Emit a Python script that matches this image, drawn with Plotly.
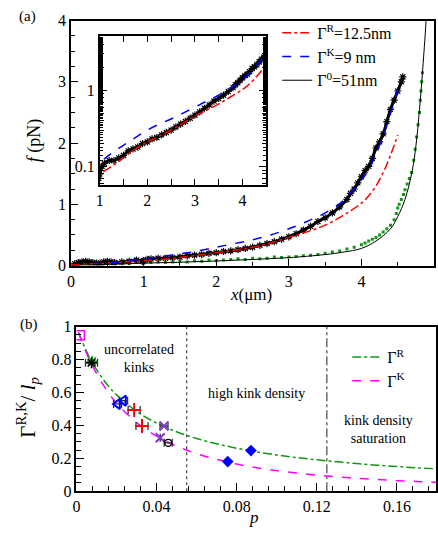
import plotly.graph_objects as go

# ---------------- panel (a) data ----------------
data_k_x = [0.05,0.1,0.15,0.2,0.25,0.3,0.35,0.4,0.45,0.5,0.55,0.6,0.7,0.8,0.9,0.98,1.0,1.05,1.1,1.2,1.3,1.4,1.5,1.6,1.7,1.8,1.9,2.0,
            2.1,2.2,2.3,2.4,2.5,2.6,2.7,2.8,2.9,3.0,3.1,3.2,3.3,3.4,3.5,3.6,3.7,3.8,3.85,3.9,3.95,4.0,4.05,4.1,4.15,
            4.2,4.25,4.3,4.35,4.4,4.45,4.5,4.55,4.57]
data_k_f = [0.03,0.05,0.06,0.07,0.06,0.05,0.04,0.04,0.06,0.07,0.06,0.05,0.06,0.07,0.09,0.07,0.08,0.1,0.11,0.12,0.12,0.13,0.14,0.16,0.17,0.18,0.2,0.21,
            0.23,0.24,0.26,0.28,0.3,0.33,0.36,0.39,0.43,0.47,0.52,0.58,0.64,0.72,0.78,0.86,0.96,1.08,1.18,1.25,1.35,1.45,1.55,1.62,1.75,
            1.92,2.02,2.15,2.35,2.55,2.7,2.85,3.0,3.08]

data_g_x = [0.02,0.05,0.1,0.15,0.2,0.25,0.3,0.35,0.4,0.45,0.5,0.6,0.7,0.8,0.9,1.0,1.1,1.2,1.3,1.4,1.5,1.6,1.7,1.8,1.9,2.0,
            2.1,2.2,2.3,2.4,2.5,2.6,2.7,2.8,2.9,3.0,3.1,3.2,3.3,3.4,3.5,3.6,3.7,3.8,3.9,4.0,4.05,4.1,4.15,4.2,4.25,4.3,4.35,
            4.4,4.45,4.48,4.5,4.52,4.55,4.58,4.6,4.63,4.66,4.69,4.72,4.74,4.76,4.78,4.8,4.81,4.82,4.83,4.84]
data_g_f = [0.02,0.03,0.02,0.04,0.03,0.02,0.04,0.03,0.02,0.03,0.04,0.03,0.04,0.03,0.05,0.04,0.05,0.06,0.05,0.06,0.07,0.06,0.08,0.07,0.09,0.08,
            0.09,0.1,0.11,0.1,0.12,0.11,0.12,0.14,0.13,0.14,0.15,0.16,0.17,0.18,0.2,0.22,0.24,0.27,0.3,0.34,0.37,0.4,0.43,0.46,0.5,0.55,0.6,
            0.66,0.75,0.85,0.94,1.0,1.08,1.16,1.24,1.33,1.42,1.52,1.72,1.9,2.1,2.3,2.5,2.7,2.85,3.0,3.15]

fitR_x = [0.0,0.25,0.5,0.75,1.0,1.25,1.5,1.75,2.0,2.25,2.5,2.75,3.0,3.25,3.5,3.75,4.0,4.1,4.2,4.3,4.4,4.5]
fitR_f = [0.01,0.025,0.04,0.06,0.08,0.1,0.13,0.17,0.21,0.25,0.3,0.37,0.46,0.55,0.66,0.82,1.02,1.14,1.3,1.52,1.8,2.13]

fitK_x = [0.3,0.5,0.75,1.0,1.25,1.5,1.75,2.0,2.25,2.5,2.75,3.0,3.25,3.5,3.75,4.0,4.1,4.2,4.3,4.4,4.5]
fitK_f = [0.02,0.04,0.07,0.11,0.15,0.19,0.24,0.3,0.36,0.42,0.5,0.6,0.72,0.86,1.06,1.4,1.56,1.82,2.12,2.48,2.88]

fit0_x = [0.0,0.5,1.0,1.5,2.0,2.5,3.0,3.5,3.75,4.0,4.2,4.4,4.5,4.6,4.7,4.75,4.8,4.85,4.89,4.9]
fit0_f = [0.0,0.02,0.04,0.055,0.075,0.1,0.13,0.18,0.22,0.28,0.4,0.6,0.8,1.08,1.55,1.95,2.55,3.3,4.0,4.3]

legend_a = ["Γ<sup>R</sup>=12.5nm", "Γ<sup>K</sup>=9 nm", "Γ<sup>0</sup>=51nm"]
inset_major = [0.1, 1]
inset_minor = [0.06, 0.07, 0.08, 0.09, 0.2, 0.3, 0.4, 0.5, 0.6, 0.7, 0.8, 0.9, 2, 3, 4, 5]

# ---------------- panel (b) data ----------------
curve_p = [0.001,0.005,0.01,0.015,0.02,0.03,0.04,0.05,0.06,0.07,0.08,0.09,0.10,0.11,0.12,0.13,0.14,0.15,0.16,0.17,0.18]
curveR = [0.966,0.85,0.739,0.653,0.585,0.485,0.414,0.361,0.32,0.288,0.261,0.239,0.22,0.204,0.191,0.179,0.168,0.158,0.15,0.142,0.136]
curveK = [0.964,0.838,0.715,0.615,0.535,0.417,0.334,0.274,0.228,0.193,0.165,0.143,0.125,0.11,0.098,0.087,0.079,0.071,0.064,0.059,0.054]

sq_p, sq_y = [0.0017], [0.947]
star_p, star_y, star_e = [0.0075], [0.78], [0.003]
starg_p, starg_y = [0.0078], [0.79]
tri_p, tri_y, tri_e = [0.0205, 0.0235], [0.53, 0.55], [0.002, 0.002]
plus_p, plus_y, plus_e = [0.0288, 0.0327], [0.494, 0.396], [0.003, 0.003]
xs_p, xs_y, xs_e = [0.0437, 0.0418], [0.396, 0.325], [0.002, 0.0]
circ_p, circ_y, circ_e = [0.0458], [0.294], [0.002]
dia_p, dia_y = [0.0755, 0.0871], [0.18, 0.247]
regime_bounds = [0.055, 0.125]
legend_b = ["Γ<sup>R</sup>", "Γ<sup>K</sup>"]
p_ticks = [0, 0.04, 0.08, 0.12, 0.16]
g_ticks = [0, 0.2, 0.4, 0.6, 0.8, 1]

FONT = "Liberation Serif, Times New Roman, serif"
W, H = 438, 537

fig = go.Figure()

# ---- panel (a) main ----
fig.add_trace(go.Scatter(x=data_g_x, y=data_g_f, mode="markers", xaxis="x", yaxis="y", showlegend=False,
                         marker=dict(symbol="square", size=3, color="#119911", line=dict(width=0))))
fig.add_trace(go.Scatter(x=data_k_x, y=data_k_f, mode="lines+markers", xaxis="x", yaxis="y", showlegend=False,
                         line=dict(color="black", width=3, shape="spline"),
                         marker=dict(symbol="asterisk-open", size=6, color="black", line=dict(width=1.2, color="black"))))
fig.add_trace(go.Scatter(x=fitR_x, y=fitR_f, mode="lines", xaxis="x", yaxis="y", name=legend_a[0], legend="legend",
                         line=dict(color="red", width=1.5, dash="dashdot", shape="spline")))
fig.add_trace(go.Scatter(x=fitK_x, y=fitK_f, mode="lines", xaxis="x", yaxis="y", name=legend_a[1], legend="legend",
                         line=dict(color="blue", width=1.5, dash="dash", shape="spline")))
fig.add_trace(go.Scatter(x=fit0_x, y=fit0_f, mode="lines", xaxis="x", yaxis="y", name=legend_a[2], legend="legend",
                         line=dict(color="black", width=1, shape="spline")))

# ---- panel (a) inset ----
fig.add_trace(go.Scatter(x=data_k_x, y=data_k_f, mode="lines+markers", xaxis="x2", yaxis="y2", showlegend=False,
                         line=dict(color="black", width=3, shape="spline"),
                         marker=dict(symbol="asterisk-open", size=6, color="black", line=dict(width=1.2, color="black"))))
fig.add_trace(go.Scatter(x=fitR_x, y=fitR_f, mode="lines", xaxis="x2", yaxis="y2", showlegend=False,
                         line=dict(color="red", width=1.5, dash="dashdot", shape="spline")))
fig.add_trace(go.Scatter(x=fitK_x, y=fitK_f, mode="lines", xaxis="x2", yaxis="y2", showlegend=False,
                         line=dict(color="blue", width=1.5, dash="dash", shape="spline")))

# ---- panel (b) ----
fig.add_trace(go.Scatter(x=[regime_bounds[0]] * 2, y=[0, 1], mode="lines", xaxis="x3", yaxis="y3", showlegend=False,
                         line=dict(color="#555555", width=1.3, dash="dot")))
fig.add_trace(go.Scatter(x=[regime_bounds[1]] * 2, y=[0, 1], mode="lines", xaxis="x3", yaxis="y3", showlegend=False,
                         line=dict(color="#555555", width=1.3, dash="dashdot")))
fig.add_trace(go.Scatter(x=curve_p, y=curveR, mode="lines", xaxis="x3", yaxis="y3", name=legend_b[0], legend="legend2",
                         line=dict(color="#119911", width=1.5, dash="dashdot", shape="spline")))
fig.add_trace(go.Scatter(x=curve_p, y=curveK, mode="lines", xaxis="x3", yaxis="y3", name=legend_b[1], legend="legend2",
                         line=dict(color="magenta", width=1.5, dash="dash", shape="spline")))

eb = lambda arr: dict(type="data", array=arr, color="#333333", thickness=1.3, width=4)
fig.add_trace(go.Scatter(x=sq_p, y=sq_y, mode="markers", xaxis="x3", yaxis="y3", showlegend=False,
                         marker=dict(symbol="square-open", size=9, color="magenta", line=dict(width=1.5, color="magenta"))))
fig.add_trace(go.Scatter(x=starg_p, y=starg_y, mode="markers", xaxis="x3", yaxis="y3", showlegend=False,
                         marker=dict(symbol="asterisk-open", size=9, color="#119911", line=dict(width=1.5, color="#119911"))))
fig.add_trace(go.Scatter(x=star_p, y=star_y, mode="markers", xaxis="x3", yaxis="y3", showlegend=False, error_x=eb(star_e),
                         marker=dict(symbol="asterisk-open", size=9, color="black", line=dict(width=1.5, color="black"))))
fig.add_trace(go.Scatter(x=tri_p, y=tri_y, mode="markers", xaxis="x3", yaxis="y3", showlegend=False, error_x=eb(tri_e),
                         marker=dict(symbol="triangle-left-open", size=9, color="blue", line=dict(width=2, color="blue"))))
fig.add_trace(go.Scatter(x=plus_p, y=plus_y, mode="markers", xaxis="x3", yaxis="y3", showlegend=False, error_x=eb(plus_e),
                         marker=dict(symbol="cross-thin-open", size=10, color="red", line=dict(width=2, color="red"))))
fig.add_trace(go.Scatter(x=xs_p, y=xs_y, mode="markers", xaxis="x3", yaxis="y3", showlegend=False, error_x=eb(xs_e),
                         marker=dict(symbol="x-thin-open", size=9, color="#7d3cc8", line=dict(width=2, color="#7d3cc8"))))
fig.add_trace(go.Scatter(x=circ_p, y=circ_y, mode="markers", xaxis="x3", yaxis="y3", showlegend=False, error_x=eb(circ_e),
                         marker=dict(symbol="circle-open", size=7, color="black", line=dict(width=1.3, color="black"))))
fig.add_trace(go.Scatter(x=dia_p, y=dia_y, mode="markers", xaxis="x3", yaxis="y3", showlegend=False,
                         marker=dict(symbol="diamond", size=9, color="blue", line=dict(width=0))))


def axis(**kw):
    d = dict(showline=True, linecolor="black", linewidth=1.5, mirror=True, ticks="inside", ticklen=7,
             tickwidth=1.2, tickcolor="black", showgrid=False, zeroline=False,
             tickfont=dict(family=FONT, size=16, color="black"),
             minor=dict(ticks="inside", ticklen=4, tickwidth=1.2, tickcolor="black", showgrid=False))
    minor = kw.pop("minor", None)
    d.update(kw)
    if minor:
        d["minor"].update(minor)
    return d


def px_x(a, b):
    return [a / W, b / W]


def px_y(top, bot):
    return [1 - bot / H, 1 - top / H]


inset_dom_y = px_y(29, 183)
inset_range_y = [-1.244, 0.708]

fig.update_layout(
    width=W, height=H, margin=dict(l=0, r=0, t=0, b=0),
    paper_bgcolor="white", plot_bgcolor="white",
    font=dict(family=FONT, size=16, color="black"),
    xaxis=axis(domain=px_x(68, 436), range=[0, 5], dtick=1, tick0=0, minor=dict(dtick=0.5), anchor="y"),
    yaxis=axis(domain=px_y(13, 266), range=[0, 4], dtick=1, tick0=0, minor=dict(dtick=0.25), anchor="x"),
    xaxis2=axis(domain=px_x(97, 266), range=[1, 4.5], dtick=1, tick0=0, mirror="allticks", ticklen=6,
                minor=dict(dtick=0.5, ticklen=4), anchor="y2"),
    yaxis2=axis(domain=inset_dom_y, type="log", range=inset_range_y, tickmode="array", tickvals=inset_major,
                ticktext=["0.1", "1"], mirror="allticks", ticklen=8, anchor="x2"),
    yaxis4=dict(domain=inset_dom_y, type="log", range=inset_range_y, overlaying="y2", anchor="x2",
                tickmode="array", tickvals=inset_minor, showticklabels=False, ticks="inside", ticklen=4,
                tickwidth=1.2, tickcolor="black", showgrid=False, zeroline=False, showline=False, mirror="allticks"),
    xaxis3=axis(domain=px_x(73.5, 438), range=[0, 0.1795], tickmode="array", tickvals=p_ticks,
                ticktext=[f"{v:g}" for v in p_ticks], ticklen=8,
                minor=dict(tickmode="linear", tick0=0, dtick=0.008, ticklen=5), anchor="y3"),
    yaxis3=axis(domain=px_y(329, 499), range=[0, 1], tickmode="array", tickvals=g_ticks,
                ticktext=[f"{v:g}" for v in g_ticks], ticklen=8,
                minor=dict(tickmode="linear", tick0=0, dtick=0.05, ticklen=5), anchor="x3"),
    legend=dict(x=277 / W, y=1 - 8 / H, xanchor="left", yanchor="top", bgcolor="rgba(0,0,0,0)",
                font=dict(family=FONT, size=16), tracegroupgap=0, itemwidth=30),
    legend2=dict(x=348 / W, y=1 - 343 / H, xanchor="left", yanchor="top", bgcolor="rgba(0,0,0,0)",
                 font=dict(family=FONT, size=16), tracegroupgap=0, itemwidth=30),
)

# invisible trace so the minor-tick overlay axis is drawn
fig.add_trace(go.Scatter(x=[1], y=[1], xaxis="x2", yaxis="y4", mode="markers", showlegend=False,
                         marker=dict(size=1, opacity=0), hoverinfo="skip"))

ann = []
def txt(x, y, s, size=16, angle=0, xref="paper", yref="paper"):
    ann.append(dict(x=x, y=y, xref=xref, yref=yref, text=s, showarrow=False, textangle=angle,
                    font=dict(family=FONT, size=size, color="black"), xanchor="center", yanchor="middle"))

txt(24 / W, 1 - 9 / H, "(a)", 15)
txt(25 / W, 1 - 327 / H, "(b)", 15)
txt(250 / W, 1 - 296 / H, "<i>x</i>(μm)", 17)
txt(31 / W, 1 - 137 / H, "<i>f</i> (pN)", 18, angle=-90)
txt(253 / W, 1 - 526 / H, "<i>p</i>", 17)
txt(24 / W, 1 - 412 / H, "Γ<sup>R,K</sup>/ <i>l</i><sub><i>p</i></sub>", 21, angle=-90)
txt(0.031, 0.806, "uncorrelated<br>kinks", 14, xref="x3", yref="y3")
txt(0.0901, 0.592, "high kink density", 14, xref="x3", yref="y3")
txt(0.151, 0.376, "kink density<br>saturation", 14, xref="x3", yref="y3")
fig.update_layout(annotations=ann)

fig.write_html("out.html", config={"displayModeBar": False},
               post_script="document.body.style.margin='0px';document.body.style.overflow='hidden';")
